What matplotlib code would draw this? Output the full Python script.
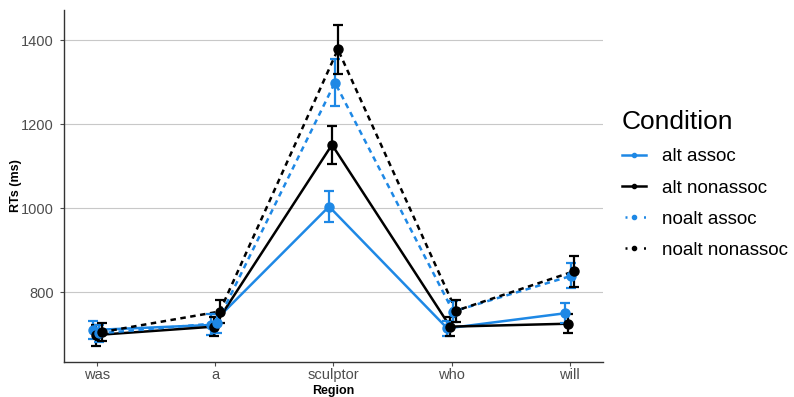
import matplotlib
matplotlib.use("Agg")
import matplotlib.pyplot as plt
import numpy as np
from matplotlib.lines import Line2D

plt.rcParams["font.family"] = ["Liberation Sans", "DejaVu Sans"]

regions = ["was", "a", "sculptor", "who", "will"]
conditions = ["alt assoc", "alt nonassoc", "noalt assoc", "noalt nonassoc"]

# mean RTs (ms) per region, one list per condition
rt_alt_assoc = [710, 722, 1004, 714, 750]
rt_alt_nonassoc = [698, 718, 1151, 718, 725]
rt_noalt_assoc = [702, 726, 1299, 754, 839]
rt_noalt_nonassoc = [705, 754, 1378, 756, 850]

# standard errors
se_alt_assoc = [22, 25, 38, 18, 24]
se_alt_nonassoc = [25, 22, 45, 22, 23]
se_noalt_assoc = [20, 22, 55, 24, 30]
se_noalt_nonassoc = [22, 28, 58, 26, 37]

means = [rt_alt_assoc, rt_alt_nonassoc, rt_noalt_assoc, rt_noalt_nonassoc]
errors = [se_alt_assoc, se_alt_nonassoc, se_noalt_assoc, se_noalt_nonassoc]

BLUE = "#1E88E5"
colors = [BLUE, "black", BLUE, "black"]
dashed = [False, False, True, True]
offsets = [-0.0375, -0.0125, 0.0125, 0.0375]

fig = plt.figure(figsize=(7.94, 3.97), dpi=100)
ax = fig.add_axes([0.0806, 0.0894, 0.6788, 0.8856])

x = np.arange(1, len(regions) + 1)

for m, c, d, off in zip(means, colors, dashed, offsets):
    ls = (0, (2.2, 1.8)) if d else "-"
    ax.plot(x + off, m, color=c, lw=1.8, ls=ls, zorder=2)

for m, e, c, off in zip(means, errors, colors, offsets):
    ax.errorbar(x + off, m, yerr=e, fmt="none", ecolor=c, elinewidth=1.6,
                capsize=3.5, capthick=1.6, zorder=3)

for m, c, off in zip(means, colors, offsets):
    ax.plot(x + off, m, "o", color=c, ms=6.5, mec=c, zorder=4)

ax.set_xlim(0.72, 5.28)
ax.set_ylim(635, 1472)
ax.set_xticks(x)
ax.set_xticklabels(regions)
ax.set_yticks([800, 1000, 1200, 1400])
ax.tick_params(axis="both", colors="#4D4D4D", labelsize=10.5, length=3, width=0.8)
ax.tick_params(axis="x", pad=2)
ax.tick_params(axis="y", pad=4.5)
ax.grid(axis="y", color="#C8C8C8", lw=0.8)
ax.set_axisbelow(True)
for side in ["top", "right"]:
    ax.spines[side].set_visible(False)
for side in ["left", "bottom"]:
    ax.spines[side].set_color("#333333")
    ax.spines[side].set_linewidth(1.0)

ax.set_xlabel("Region", fontsize=9, fontweight="bold", labelpad=1.5)
ax.set_ylabel("RTs (ms)", fontsize=9, fontweight="bold")
ax.yaxis.set_label_coords(-0.0775, 0.5)

handles = []
for c, d in zip(colors, dashed):
    ls = (2.5, (0.8, 2.9)) if d else "-"
    handles.append(Line2D([], [], color=c, lw=1.8, ls=ls, marker="o", ms=3))
leg = fig.legend(handles, conditions, loc="upper left",
                 bbox_to_anchor=(0.762, 0.765), frameon=False,
                 title="Condition", title_fontsize=19, fontsize=13.5,
                 handlelength=1.28, handletextpad=0.85, labelspacing=0.75)
leg._legend_box.align = "left"

fig.savefig("out.png", dpi=100)
